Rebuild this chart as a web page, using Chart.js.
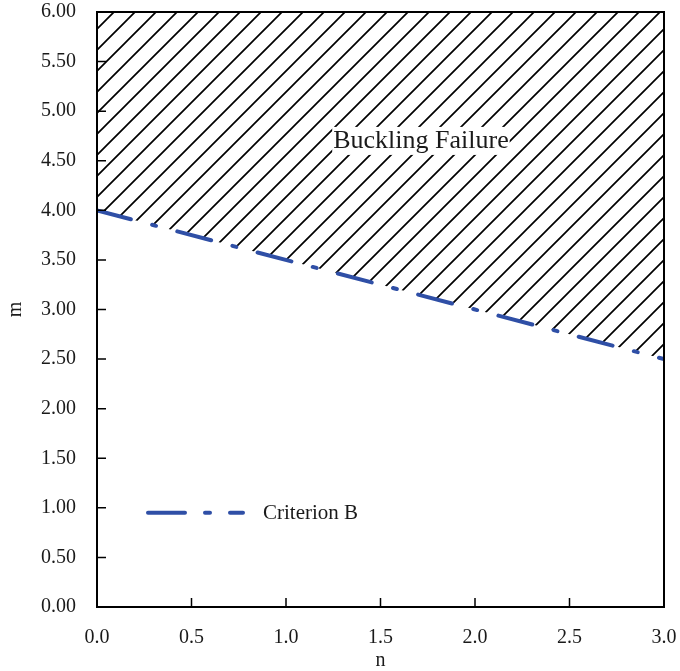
<!DOCTYPE html>
<html>
<head>
<meta charset="utf-8">
<script src="https://cdn.jsdelivr.net/npm/chart.js@4.4.1/dist/chart.umd.min.js"></script>
<style>
  html, body { margin: 0; padding: 0; background: #fff; }
</style>
</head>
<body>
<canvas id="grafico" width="680" height="671"></canvas>
<script>
// dati
const N_VALUES = [0.0, 3.0];
const M_VALUES = [4.0, 2.5];
const SERIES_LABEL = "Criterion B";
const REGION_LABEL = "Buckling Failure";
const X_TICKS = [0.0, 0.5, 1.0, 1.5, 2.0, 2.5, 3.0];
const Y_TICKS = [0.0, 0.5, 1.0, 1.5, 2.0, 2.5, 3.0, 3.5, 4.0, 4.5, 5.0, 5.5, 6.0];

const FONT = "'Liberation Serif', 'Times New Roman', serif";
const BLUE = "#2f4fa6";

// pattern a tratteggio diagonale
function hatchPattern() {
  const s = 21;
  const c = document.createElement("canvas");
  c.width = s; c.height = s;
  const g = c.getContext("2d");
  g.strokeStyle = "#000";
  g.lineWidth = 1.7;
  g.beginPath();
  g.moveTo(-2, s + 2); g.lineTo(s + 2, -2);
  g.moveTo(-2, 2); g.lineTo(2, -2);
  g.moveTo(s - 2, s + 2); g.lineTo(s + 2, s - 2);
  g.stroke();
  return g.createPattern(c, "repeat");
}

const punti = N_VALUES.map((n, i) => ({ x: n, y: M_VALUES[i] }));

const cornice = {
  id: "cornice",
  afterDatasetsDraw(chart) {
    const ctx = chart.ctx;
    const a = chart.chartArea;
    const xs = chart.scales.x, ys = chart.scales.y;
    ctx.save();
    // etichetta regione
    ctx.font = "26px " + FONT;
    ctx.textAlign = "center";
    ctx.textBaseline = "middle";
    const lx = xs.getPixelForValue(1.714), ly = ys.getPixelForValue(4.70);
    const w = ctx.measureText(REGION_LABEL).width;
    ctx.fillStyle = "#fff";
    ctx.fillRect(lx - w / 2 - 1, ly - 14, w + 2, 28);
    ctx.fillStyle = "#1a1a1a";
    ctx.fillText(REGION_LABEL, lx, ly);

    // tacche interne
    ctx.strokeStyle = "#000";
    ctx.lineWidth = 1.5;
    ctx.beginPath();
    X_TICKS.forEach(v => {
      const p = xs.getPixelForValue(v);
      ctx.moveTo(p, a.bottom); ctx.lineTo(p, a.bottom - 9);
    });
    Y_TICKS.forEach(v => {
      const p = ys.getPixelForValue(v);
      ctx.moveTo(a.left, p); ctx.lineTo(a.left + 9, p);
    });
    ctx.stroke();

    // bordo
    ctx.lineWidth = 2;
    ctx.strokeRect(a.left, a.top, a.right - a.left, a.bottom - a.top);

    // legenda
    const ly2 = ys.getPixelForValue(1.0) + 5;
    ctx.strokeStyle = BLUE;
    ctx.lineWidth = 4;
    ctx.lineCap = "round";
    ctx.setLineDash([37, 20, 5, 20]);
    ctx.beginPath();
    ctx.moveTo(a.left + 51, ly2); ctx.lineTo(a.left + 146, ly2);
    ctx.stroke();
    ctx.setLineDash([]);
    ctx.font = "21px " + FONT;
    ctx.textAlign = "left";
    ctx.fillStyle = "#1a1a1a";
    ctx.fillText(SERIES_LABEL, a.left + 166, ly2 + 1);
    ctx.restore();
  }
};

new Chart("grafico", {
  type: "line",
  data: {
    datasets: [{
      label: SERIES_LABEL,
      data: punti,
      borderColor: BLUE,
      borderWidth: 4,
      borderCapStyle: "round",
      borderDash: [35, 22, 4, 22],
      backgroundColor: hatchPattern(),
      fill: "end",
      pointRadius: 0,
      tension: 0
    }]
  },
  options: {
    responsive: false,
    animation: false,
    layout: { padding: { top: 12, right: 16, left: 0, bottom: 0 } },
    plugins: { legend: { display: false }, tooltip: { enabled: false } },
    scales: {
      x: {
        type: "linear",
        min: 0, max: 3,
        afterBuildTicks: s => { s.ticks = X_TICKS.map(v => ({ value: v })); },
        afterFit: s => { s.height = 64; s.paddingLeft = 0; s.paddingRight = 0; },
        grid: { display: false, drawTicks: false },
        border: { display: false },
        ticks: {
          padding: 19,
          color: "#1a1a1a",
          font: { family: FONT, size: 20 },
          callback: v => v.toFixed(1)
        },
        title: {
          display: true, text: "n", color: "#1a1a1a",
          font: { family: FONT, size: 20 },
          padding: { top: 0, bottom: -2 }
        }
      },
      y: {
        type: "linear",
        min: 0, max: 6,
        afterBuildTicks: s => { s.ticks = Y_TICKS.map(v => ({ value: v })); },
        afterFit: s => { s.width = 97; s.paddingTop = 0; s.paddingBottom = 0; },
        grid: { display: false, drawTicks: false },
        border: { display: false },
        ticks: {
          padding: 21,
          color: "#1a1a1a",
          font: { family: FONT, size: 20 },
          callback: v => v.toFixed(2)
        },
        title: {
          display: true, text: "m", color: "#1a1a1a",
          font: { family: FONT, size: 20 },
          padding: { top: 4, bottom: 0 }
        }
      }
    }
  },
  plugins: [cornice]
});
</script>
</body>
</html>
